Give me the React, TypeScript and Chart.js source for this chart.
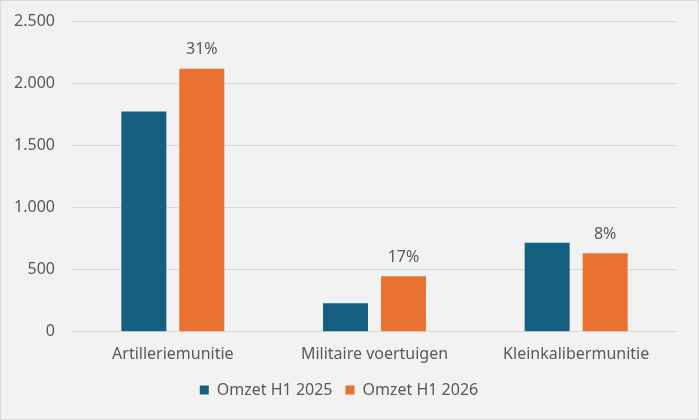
import { useEffect, useRef } from "react";
import { Chart, registerables, Plugin } from "chart.js";

Chart.register(...registerables);

const categories = ["Artilleriemunitie", "Militaire voertuigen", "Kleinkalibermunitie"];
const omzet2025 = [1772, 229, 716];
const omzet2026 = [2115, 446, 632];
const groeiLabels = ["31%", "17%", "8%"];
const seriesNames = ["Omzet H1 2025", "Omzet H1 2026"];

const BLUE = "#156082";
const ORANGE = "#E97132";
const TEXT = "#595959";
const GRID = "#d9d9d9";
const FONT = "'Noto Sans', sans-serif";

function formatNl(v: number) {
  return String(v).replace(/\B(?=(\d{3})+(?!\d))/g, ".");
}

const growthLabels: Plugin<"bar"> = {
  id: "growthLabels",
  afterDatasetsDraw(chart) {
    const ctx = chart.ctx;
    const meta = chart.getDatasetMeta(1);
    ctx.save();
    ctx.fillStyle = TEXT;
    ctx.font = `16px ${FONT}`;
    ctx.textAlign = "center";
    ctx.textBaseline = "middle";
    meta.data.forEach((bar, i) => {
      ctx.fillText(groeiLabels[i], bar.x, bar.y - 19);
    });
    ctx.restore();
  },
};

export default function App() {
  const canvasRef = useRef<HTMLCanvasElement>(null);
  const chartRef = useRef<Chart | null>(null);

  useEffect(() => {
    document.body.style.margin = "0";
    if (!canvasRef.current) return;
    if (chartRef.current) chartRef.current.destroy();

    chartRef.current = new Chart(canvasRef.current, {
      type: "bar",
      data: {
        labels: categories,
        datasets: [
          { label: seriesNames[0], data: omzet2025, backgroundColor: BLUE },
          { label: seriesNames[1], data: omzet2026, backgroundColor: ORANGE },
        ],
      },
      options: {
        animation: false,
        responsive: true,
        maintainAspectRatio: false,
        layout: { padding: { top: 20, right: 21, left: 0, bottom: 11 } },
        datasets: {
          bar: { categoryPercentage: 0.575, barPercentage: 0.776 },
        },
        plugins: {
          legend: {
            position: "bottom",
            labels: {
              color: TEXT,
              font: { family: FONT, size: 16 },
              boxWidth: 9,
              boxHeight: 9,
              padding: 13,
            },
          },
          tooltip: { enabled: false },
        },
        scales: {
          x: {
            grid: { display: false },
            border: { display: false },
            ticks: { color: TEXT, font: { family: FONT, size: 16 }, padding: 5 },
          },
          y: {
            min: 0,
            max: 2500,
            afterFit: (scale) => {
              scale.width = 71;
              scale.paddingTop = 0;
              scale.paddingBottom = 0;
            },
            ticks: {
              stepSize: 500,
              color: TEXT,
              font: { family: FONT, size: 16 },
              padding: 17,
              callback: (v) => formatNl(Number(v)),
            },
            grid: { color: GRID, drawTicks: false },
            border: { display: false },
          },
        },
      },
      plugins: [growthLabels],
    });

    return () => {
      chartRef.current?.destroy();
      chartRef.current = null;
    };
  }, []);

  return (
    <div
      style={{
        width: 699,
        height: 420,
        boxSizing: "border-box",
        border: `1px solid ${GRID}`,
        background: "#f2f2f2",
        position: "relative",
      }}
    >
      <canvas ref={canvasRef} />
    </div>
  );
}
